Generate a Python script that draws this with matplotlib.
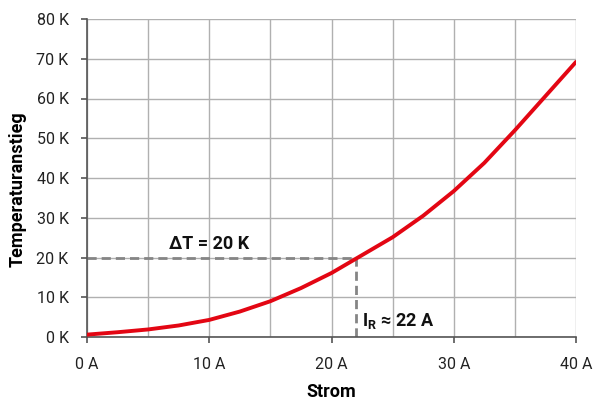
import matplotlib
matplotlib.use("Agg")
import matplotlib.pyplot as plt
from matplotlib.ticker import MultipleLocator

current = [0, 2.5, 5, 7.5, 10, 12.5, 15, 17.5, 20, 22, 25, 27.5, 30, 32.5, 35, 37.5, 40]
temp = [0.6, 1.2, 1.9, 2.9, 4.3, 6.4, 9.0, 12.3, 16.1, 19.7, 25.1, 30.5, 36.7, 43.8, 52.0, 60.6, 69.2]
x_ticks = [0, 10, 20, 30, 40]
x_tick_labels = ["0 A", "10 A", "20 A", "30 A", "40 A"]
y_ticks = [0, 10, 20, 30, 40, 50, 60, 70, 80]
y_tick_labels = ["0 K", "10 K", "20 K", "30 K", "40 K", "50 K", "60 K", "70 K", "80 K"]
rated_current = 22
rated_temp = 20

plt.rcParams['font.family'] = ['Roboto', 'DejaVu Sans']
plt.rcParams['mathtext.fontset'] = 'custom'
plt.rcParams['mathtext.rm'] = 'Roboto'
plt.rcParams['mathtext.bf'] = 'Roboto:bold'

fig = plt.figure(figsize=(5.95, 4.0), dpi=100)
ax = fig.add_axes([87/595, 1 - 337/400, (576-87)/595, (337-19)/400])

ax.set_xlim(0, 40)
ax.set_ylim(0, 80)
ax.set_xticks(x_ticks)
ax.set_xticklabels(x_tick_labels)
ax.set_yticks(y_ticks)
ax.set_yticklabels(y_tick_labels)
ax.xaxis.set_minor_locator(MultipleLocator(5))

ax.grid(True, which='both', color='#b0b0b0', linewidth=1.0)
ax.set_axisbelow(True)
for s in ['top', 'right']:
    ax.spines[s].set_visible(False)
for s in ['left', 'bottom']:
    ax.spines[s].set_color('#555555')
    ax.spines[s].set_linewidth(1.2)
ax.tick_params(axis='both', which='major', direction='out', length=4.3, width=1.2,
               color='#555555', labelsize=11.5, labelcolor='#222222')
ax.tick_params(axis='x', which='major', pad=10)
ax.tick_params(axis='y', which='major', pad=9)
ax.tick_params(axis='x', which='minor', length=0)

ax.plot([0, rated_current], [rated_temp, rated_temp], color='#858585', lw=2, ls=(0, (3.3, 1.8)))
ax.plot([rated_current, rated_current], [0, rated_temp], color='#858585', lw=2, ls=(0, (3.3, 1.8)))
ax.plot(current, temp, color='#e30613', lw=2.8, solid_capstyle='round',
        solid_joinstyle='round', zorder=5)

ax.text(10.0, 21.2, "ΔT = 20 K", fontsize=13, fontweight='bold', ha='center', va='bottom', color='#111111')
ax.text(22.5, 4.1, r"$\mathbf{I_R}$ ≈ 22 A", fontsize=13, fontweight='bold', ha='left', va='center', color='#111111')

ax.set_xlabel("Strom", fontsize=13, fontweight='bold', labelpad=8)
ax.set_ylabel("Temperaturanstieg", fontsize=13, fontweight='bold')
ax.yaxis.set_label_coords(-0.123, 0.465)

fig.savefig("out.png", dpi=100)
